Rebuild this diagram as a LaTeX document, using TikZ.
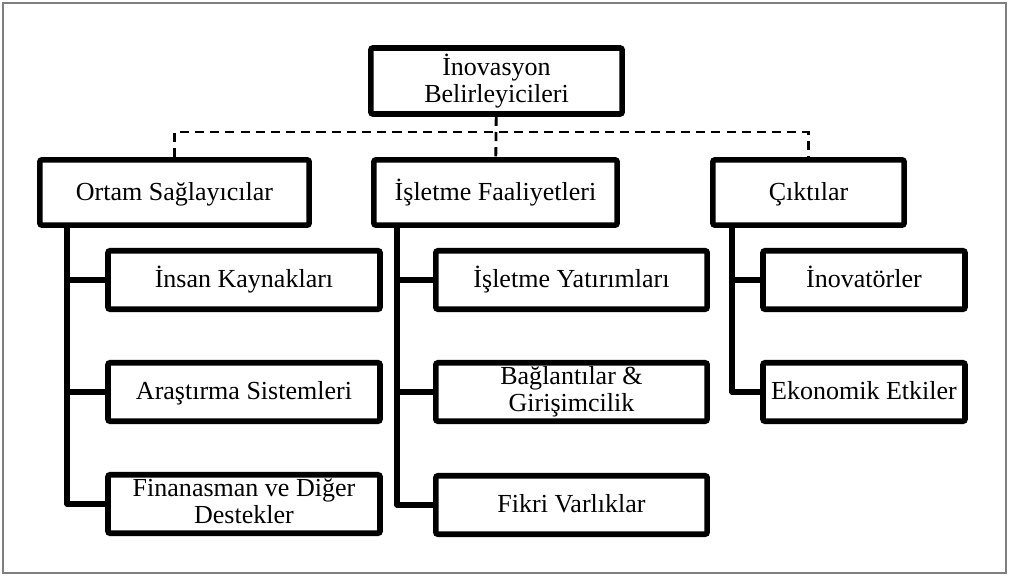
\documentclass[tikz,border=0pt]{standalone}
\usepackage{fontspec}
\setmainfont{Liberation Serif}
\usepackage{tikz}
\usetikzlibrary{positioning, calc}
\usepackage{xcolor}
\definecolor{FrameGray}{HTML}{7F7F7F}
\definecolor{InkBlack}{HTML}{000000}
\tikzset{
    box/.style={
        draw=InkBlack,
        line width=4pt,
        rounded corners=1.5pt,
        fill=white,
        minimum width=#1,
        minimum height=1.63cm,
        text=InkBlack,
        font=\fontsize{18.5}{19.3}\selectfont,
        align=center,
        inner sep=2pt,
        execute at begin node={\vphantom{İg}},
        execute at end node={\vphantom{İg}}
    },
    box/.default=6cm,
    subbox/.style={
        box=#1,
        minimum height=1.46cm
    },
    subbox/.default=6.8cm,
    trunk/.style={
        draw=InkBlack,
        line width=3.6pt,
        line join=round
    },
    dashline/.style={
        draw=InkBlack,
        line width=2pt,
        dash pattern=on 6.5pt off 4.3pt
    }
}
\begin{document}
\begin{tikzpicture}[x=0.025cm, y=-0.025cm]
        % Frame
        \useasboundingbox (0,0) rectangle (1009,576);
        \draw[FrameGray, line width=0.8pt] (3,3) rectangle (1006,573);

        % Root
        \node[box=6.28cm, minimum height=1.65cm] (root) at (496.5,81) {İnovasyon\\Belirleyicileri};

        % Second level
        \node[box=6.73cm] (ortam) at (174.5,192.5) {Ortam Sağlayıcılar};
        \node[box=6.08cm] (isletme) at (495.5,192.5) {İşletme Faaliyetleri};
        \node[box=4.78cm] (cikti) at (808.5,192.5) {Çıktılar};

        % Third level, left
        \node[subbox=6.8cm] (insan) at (244,280) {İnsan Kaynakları};
        \node[subbox=6.8cm] (arastirma) at (244,392) {Araştırma Sistemleri};
        \node[subbox=6.8cm] (finans) at (244,504) {Finanasman ve Diğer\\Destekler};

        % Third level, middle
        \node[subbox=6.78cm] (yatirim) at (571.5,280) {İşletme Yatırımları};
        \node[subbox=6.78cm] (baglanti) at (571.5,392) {Bağlantılar \&\\Girişimcilik};
        \node[subbox=6.78cm] (fikri) at (571.5,505) {Fikri Varlıklar};

        % Third level, right
        \node[subbox=5.05cm] (inovator) at (864,280) {İnovatörler};
        \node[subbox=5.05cm] (ekonomik) at (864,392) {Ekonomik Etkiler};

        % Dashed links
        \coordinate (bus) at (496.5,132);
        \draw[dashline] (root) -- (isletme);
        \draw[dashline] (ortam.north) |- (bus) -| (cikti.north);

        % Trunks
        \coordinate (ltrunk) at (67,192);
        \coordinate (mtrunk) at (397,192);
        \coordinate (rtrunk) at (732,192);
        \draw[trunk] (ltrunk |- ortam.south) |- (finans);
        \draw[trunk] (ltrunk |- insan) -- (insan);
        \draw[trunk] (ltrunk |- arastirma) -- (arastirma);
        \draw[trunk] (mtrunk |- isletme.south) |- (fikri);
        \draw[trunk] (mtrunk |- yatirim) -- (yatirim);
        \draw[trunk] (mtrunk |- baglanti) -- (baglanti);
        \draw[trunk] (rtrunk |- cikti.south) |- (ekonomik);
        \draw[trunk] (rtrunk |- inovator) -- (inovator);
\end{tikzpicture}
\end{document}
